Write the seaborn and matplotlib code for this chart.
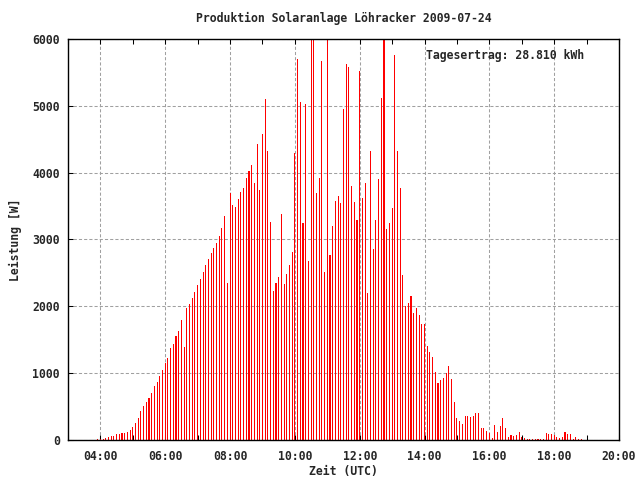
import numpy as np
import pandas as pd
import matplotlib
matplotlib.use("Agg")
import matplotlib.pyplot as plt
import seaborn as sns
from matplotlib.ticker import MultipleLocator

# ---- data (5-minute power readings, W) ----
start_minute = 3 * 60 + 55
step_minutes = 5
watts = [
    15, 20, 15, 35, 45, 60, 60, 90, 90, 105,
    105, 120, 150, 195, 255, 330, 435, 510, 570, 630,
    705, 810, 870, 960, 1050, 1145, 1230, 1380, 1440, 1560,
    1635, 1800, 1395, 1975, 2035, 2125, 2215, 2320, 2410, 2515,
    2620, 2710, 2800, 2875, 2950, 3055, 3175, 3355, 2350, 3690,
    3520, 3490, 3610, 3715, 3775, 3925, 4030, 4120, 3850, 4430,
    3745, 4580, 5105, 4330, 3255, 2225, 2345, 2435, 3375, 2330,
    2490, 2625, 2820, 4300, 5700, 5060, 3240, 5030, 2685, 6100,
    6100, 3690, 3925, 5670, 2520, 6100, 2775, 3195, 3580, 3655,
    3550, 4955, 5625, 5580, 3805, 3565, 3285, 5520, 3625, 3850,
    2195, 4330, 2865, 3285, 3910, 5120, 6100, 3150, 3240, 3465,
    5760, 4330, 3775, 2465, 2000, 2045, 2150, 1895, 1970, 1865,
    1730, 1730, 1405, 1315, 1240, 1015, 850, 895, 925, 1000,
    1105, 910, 565, 330, 285, 240, 360, 360, 345, 360,
    405, 405, 180, 180, 135, 105, 30, 225, 120, 210,
    330, 180, 45, 75, 60, 75, 120, 45, 30, 15,
    15, 15, 15, 15, 15, 15, 105, 90, 90, 75,
    45, 30, 45, 120, 90, 90, 15, 45, 15, 15,
]
hours = [(start_minute + step_minutes * i) / 60 for i in range(len(watts))]

title = "Produktion Solaranlage Löhracker 2009-07-24"
energy_label = "Tagesertrag: 28.810 kWh"
x_label = "Zeit (UTC)"
y_label = "Leistung [W]"
x_major_hours = [4, 6, 8, 10, 12, 14, 16, 18, 20]
x_tick_labels = [f"{h:02d}:00" for h in x_major_hours]
y_ticks = [0, 1000, 2000, 3000, 4000, 5000, 6000]

# ---- style ----
sns.set_theme(style="ticks")
plt.rcParams["font.family"] = ["DejaVu Sans Mono"]
plt.rcParams["font.weight"] = "bold"

fig = plt.figure(figsize=(6.4, 4.8), dpi=100)
fig.patch.set_facecolor("white")
ax = fig.add_axes([68 / 640, 40 / 480, 551 / 640, 401 / 480])
ax.set_facecolor("white")

df = pd.DataFrame({"Stunde": hours, "Leistung": watts})
bw = step_minutes / 60
sns.histplot(data=df, x="Stunde", weights="Leistung", binwidth=bw,
             binrange=(hours[0] - bw / 2, hours[-1] + bw / 2),
             shrink=0.4, color="#ff0000", alpha=1, linewidth=0, ax=ax)
for p in ax.patches:
    p.set_antialiased(False)

ax.set_xlim(3, 20)
ax.set_ylim(0, 6000)
ax.set_xticks(x_major_hours)
ax.set_xticklabels(x_tick_labels)
ax.xaxis.set_minor_locator(MultipleLocator(1))
ax.set_yticks(y_ticks)
ax.set_yticklabels([str(v) for v in y_ticks])
ax.set_xlabel("")
ax.set_ylabel("")

ax.set_axisbelow(True)
ax.grid(True, which="major", color="#a0a0a0", linestyle=(0, (3, 2)),
        linewidth=0.75)
ax.grid(False, which="minor")

ax.tick_params(axis="x", which="both", direction="in", top=True, bottom=True,
               length=3.3, width=0.75, color="black", labelsize=8.3, pad=7)
ax.tick_params(axis="y", which="both", direction="in", left=True, right=False,
               length=3.3, width=0.75, color="black", labelsize=8.3, pad=6)
for lbl in ax.get_xticklabels() + ax.get_yticklabels():
    lbl.set_fontweight("bold")
for s in ax.spines.values():
    s.set_visible(True)
    s.set_linewidth(1.0)
    s.set_color("black")

fig.text(343.5 / 640, 1 - 18 / 480, title, ha="center", va="center",
         fontsize=8.3, fontweight="bold")
fig.text(426.5 / 640, 1 - 56 / 480, energy_label, ha="left", va="center",
         fontsize=8.3, fontweight="bold")
fig.text(343.5 / 640, 1 - 472 / 480, x_label, ha="center", va="center",
         fontsize=8.3, fontweight="bold")
fig.text(15 / 640, 1 - 240 / 480, y_label, ha="center", va="center",
         rotation=90, fontsize=8.3, fontweight="bold")

fig.savefig("out.png", dpi=100, facecolor="white")
